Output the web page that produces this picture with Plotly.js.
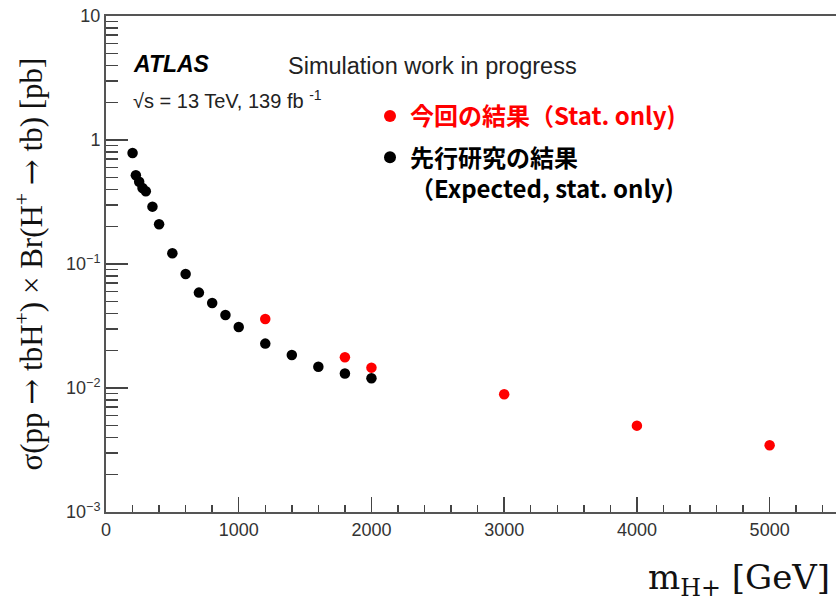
<!DOCTYPE html>
<html>
<head>
<meta charset="utf-8">
<script src="https://cdn.plot.ly/plotly-3.0.1.min.js"></script>
<style>
  html, body { margin: 0; padding: 0; background: #fff; overflow: hidden; }
  #chart { width: 836px; height: 603px; }
</style>
</head>
<body>
<div id="chart"></div>
<script>
// ---- data ----
const massPrevious = [200, 225, 250, 275, 300, 350, 400, 500, 600, 700, 800, 900, 1000, 1200, 1400, 1600, 1800, 2000];
const xsecPrevious = [0.785, 0.52, 0.46, 0.41, 0.386, 0.29, 0.209, 0.122, 0.083, 0.0588, 0.0484, 0.0388, 0.031, 0.0228, 0.01845, 0.01486, 0.0131, 0.01197];
const massCurrent = [1200, 1800, 2000, 3000, 4000, 5000];
const xsecCurrent = [0.036, 0.0177, 0.01459, 0.0089, 0.00497, 0.00345];

const nameCurrent = '今回の結果（Stat. only)';
const namePrevious = '先行研究の結果<br>（Expected, stat. only)';

const yTickVals = [0.001, 0.01, 0.1, 1, 10];
const yTickText = ['10<sup>−3</sup>', '10<sup>−2</sup>', '10<sup>−1</sup>', '1', '10'];

// minor log ticks (2..9 in each decade)
const yMinor = [];
for (let e = -3; e < 1; e++) {
  for (let d = 2; d <= 9; d++) yMinor.push(d * Math.pow(10, e));
}

const L = 106, T = 16, B = 512.3, R = 836;
const px = x => (x - L) / (R - L);
const py = y => (B - y) / (B - T);

const arrow = '<span style="font-family:DejaVu Serif">→</span>';

const traces = [
  {
    x: massPrevious, y: xsecPrevious, type: 'scatter', mode: 'markers',
    name: namePrevious, legendrank: 2, legendgroup: 'prev',
    marker: { color: '#000000', size: 10.5, symbol: 'circle' }
  },
  {
    x: massCurrent, y: xsecCurrent, type: 'scatter', mode: 'markers',
    name: '<span style="color:#ff0000">' + nameCurrent + '</span>', legendrank: 1, legendgroup: 'cur',
    marker: { color: '#ff0000', size: 10.5, symbol: 'circle' }
  }
];

const tickFont = { family: 'Liberation Sans, Arial, sans-serif', size: 18, color: '#333' };

const layout = {
  width: 836, height: 603,
  margin: { l: L, r: 0, t: T, b: 603 - B, pad: 0 },
  paper_bgcolor: '#ffffff', plot_bgcolor: '#ffffff',
  showlegend: true,
  legend: {
    x: px(370), y: py(94), xanchor: 'left', yanchor: 'top',
    bgcolor: 'rgba(0,0,0,0)', borderwidth: 0,
    valign: 'top', tracegroupgap: 7,
    font: { family: 'Noto Sans CJK JP, sans-serif', size: 24, color: '#000', weight: 'bold' },
    itemsizing: 'constant'
  },
  xaxis: {
    range: [0, 5500], type: 'linear',
    tick0: 0, dtick: 1000,
    ticks: 'inside', ticklen: 15, tickwidth: 1.5, tickcolor: '#444',
    minor: { dtick: 200, ticks: 'inside', ticklen: 7, tickwidth: 1.5, tickcolor: '#444', showgrid: false },
    showline: true, linecolor: '#555', linewidth: 2, mirror: true,
    showgrid: false, zeroline: false,
    tickfont: tickFont
  },
  yaxis: {
    type: 'log', range: [-3, 1],
    tickvals: yTickVals, ticktext: yTickText,
    ticks: 'inside', ticklen: 22, tickwidth: 1.5, tickcolor: '#444',
    minor: { tickvals: yMinor, ticks: 'inside', ticklen: 12, tickwidth: 1.5, tickcolor: '#444', showgrid: false },
    showline: true, linecolor: '#555', linewidth: 2, mirror: false,
    showgrid: false, zeroline: false,
    tickfont: tickFont,
    title: {
      text: 'σ(pp ' + arrow + ' tbH<sup>+</sup>) × Br(H<sup>+</sup> ' + arrow + ' tb) [pb]',
      font: { family: 'Liberation Serif, Times New Roman, serif', size: 31, color: '#111' },
      standoff: 14
    },
    automargin: false
  },
  annotations: [
    {
      xref: 'paper', yref: 'paper', x: px(131), y: py(64), xanchor: 'left', yanchor: 'middle',
      text: '<b><i>ATLAS</i></b>', showarrow: false,
      font: { family: 'Liberation Sans, Arial, sans-serif', size: 23, color: '#000' }
    },
    {
      xref: 'paper', yref: 'paper', x: px(286), y: py(66), xanchor: 'left', yanchor: 'middle',
      text: 'Simulation work in progress', showarrow: false,
      font: { family: 'Liberation Sans, Arial, sans-serif', size: 23.5, color: '#222' }
    },
    {
      xref: 'paper', yref: 'paper', x: px(131), y: py(100), xanchor: 'left', yanchor: 'middle',
      text: '√s = 13 TeV, 139 fb <sup>-1</sup>', showarrow: false,
      font: { family: 'Liberation Sans, Arial, sans-serif', size: 20, color: '#222' }
    },
    {
      xref: 'paper', yref: 'paper', x: px(832), y: py(580), xanchor: 'right', yanchor: 'middle',
      text: 'm<sub>H+</sub> [GeV]', showarrow: false,
      font: { family: 'DejaVu Serif, serif', size: 34, color: '#111' }
    }
  ]
};

Plotly.newPlot('chart', traces, layout, { staticPlot: true, displayModeBar: false });
</script>
</body>
</html>
